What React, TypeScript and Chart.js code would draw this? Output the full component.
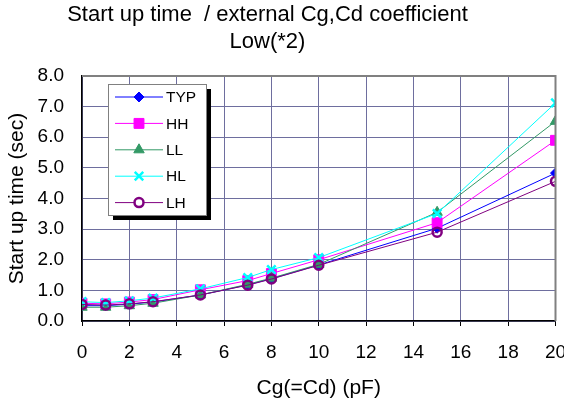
import React, { useEffect, useRef } from 'react';
import { Chart, registerables } from 'chart.js';
import { drawPoint } from 'chart.js/helpers';

Chart.register(...registerables);

const xValues = [0, 1, 2, 3, 5, 7, 8, 10, 15, 20];
const seriesNames = ['TYP', 'HH', 'LL', 'HL', 'LH'];
const typValues = [0.5, 0.5, 0.55, 0.62, 0.85, 1.18, 1.38, 1.83, 3.03, 4.83];
const hhValues = [0.58, 0.56, 0.62, 0.7, 1.02, 1.32, 1.55, 2.0, 3.21, 5.9];
const llValues = [0.45, 0.45, 0.5, 0.58, 0.85, 1.2, 1.4, 1.85, 3.55, 6.52];
const hlValues = [0.63, 0.6, 0.66, 0.75, 1.05, 1.42, 1.68, 2.07, 3.51, 7.12];
const lhValues = [0.54, 0.52, 0.56, 0.63, 0.85, 1.17, 1.37, 1.82, 2.9, 4.56];
const titleLines = ['Start up time  / external Cg,Cd coefficient', 'Low(*2)'];
const xTitle = 'Cg(=Cd) (pF)';
const yTitle = 'Start up time (sec)';

const FONT = '"Liberation Sans", Arial, sans-serif';

const styles = [
  { color: '#0000FF', pointStyle: 'rectRot', radius: 5, fill: '#0000FF', bw: 1 },
  { color: '#FF00FF', pointStyle: 'rect', radius: 7, fill: '#FF00FF', bw: 1 },
  { color: '#339966', pointStyle: 'triangle', radius: 6, fill: '#339966', bw: 1 },
  { color: '#00FFFF', pointStyle: 'crossRot', radius: 6, fill: '#00FFFF', bw: 2.5 },
  { color: '#800080', pointStyle: 'circle', radius: 4.5, fill: 'rgba(0,0,0,0)', bw: 2.5 },
];

const allValues = [typValues, hhValues, llValues, hlValues, lhValues];

const decorPlugin = {
  id: 'decor',
  afterDraw(chart: any) {
    const ctx = chart.ctx;
    const ca = chart.chartArea;
    ctx.save();
    // top / right border
    ctx.strokeStyle = '#808080';
    ctx.lineWidth = 2;
    ctx.beginPath();
    ctx.moveTo(ca.left, ca.top);
    ctx.lineTo(ca.right, ca.top);
    ctx.lineTo(ca.right, ca.bottom);
    ctx.stroke();

    // title
    ctx.fillStyle = '#000';
    ctx.font = `22px ${FONT}`;
    ctx.textAlign = 'center';
    ctx.textBaseline = 'alphabetic';
    ctx.fillText(titleLines[0], 267.5, 21);
    ctx.fillText(titleLines[1], 267.5, 47.5);

    // legend
    const bx = 108, by = 84, bw = 98, bh = 131;
    ctx.fillStyle = '#000';
    ctx.fillRect(bx + 5, by + 5, bw, bh);
    ctx.fillStyle = '#fff';
    ctx.fillRect(bx, by, bw, bh);
    ctx.strokeStyle = '#808080';
    ctx.lineWidth = 1;
    ctx.strokeRect(bx + 0.5, by + 0.5, bw, bh);
    ctx.font = `15.5px ${FONT}`;
    ctx.textAlign = 'left';
    ctx.textBaseline = 'middle';
    chart.data.datasets.forEach((ds: any, i: number) => {
      const st = styles[i];
      const y = 97 + i * 26.4;
      ctx.strokeStyle = st.color;
      ctx.lineWidth = 1;
      ctx.beginPath();
      ctx.moveTo(115, y);
      ctx.lineTo(163, y);
      ctx.stroke();
      ctx.fillStyle = i === 4 ? '#fff' : st.fill;
      ctx.strokeStyle = st.color;
      ctx.lineWidth = st.bw;
      drawPoint(ctx, { pointStyle: st.pointStyle, rotation: 0, radius: st.radius, borderWidth: st.bw } as any, 139, y);
      ctx.fillStyle = '#000';
      ctx.fillText(ds.label, 166, y + 1);
    });
    ctx.restore();
  },
};

export default function App() {
  const ref = useRef<HTMLCanvasElement | null>(null);
  useEffect(() => {
    if (!ref.current) return;
    const datasets = seriesNames.map((name, i) => ({
      label: name,
      data: xValues.map((x, j) => ({ x, y: allValues[i][j] })),
      borderColor: styles[i].color,
      backgroundColor: styles[i].fill,
      borderWidth: 1,
      pointStyle: styles[i].pointStyle,
      pointRadius: styles[i].radius,
      pointBorderWidth: styles[i].bw,
      pointBorderColor: styles[i].color,
      pointBackgroundColor: styles[i].fill,
      showLine: true,
      fill: false,
      tension: 0,
      order: 5 - i,
    }));
    const chart = new Chart(ref.current, {
      type: 'scatter',
      data: { datasets } as any,
      options: {
        animation: false,
        responsive: false,
        devicePixelRatio: 1,
        layout: { padding: { top: 76, right: 7, left: 0, bottom: 0 } },
        plugins: { legend: { display: false }, tooltip: { enabled: false }, title: { display: false } },
        scales: {
          x: {
            type: 'linear',
            min: 0,
            max: 20,
            ticks: { stepSize: 2, color: '#000', font: { family: FONT, size: 19 }, padding: 15, maxRotation: 0, autoSkip: false },
            grid: { color: '#6e6e9e', lineWidth: 1, drawTicks: true, tickLength: 5, tickColor: '#000' },
            border: { color: '#000', width: 1.5 },
            title: { display: true, text: xTitle, color: '#000', font: { family: FONT, size: 21 }, padding: { top: 0, bottom: 2 } },
            afterFit: (s: any) => { s.height = 82; s.paddingLeft = 0; s.paddingRight = 0; },
          },
          y: {
            min: 0,
            max: 8,
            ticks: { stepSize: 1, color: '#000', font: { family: FONT, size: 19 }, padding: 18, callback: (v: any) => Number(v).toFixed(1) },
            grid: { color: '#6e6e9e', lineWidth: 1, drawTicks: false },
            border: { color: '#000', width: 1.5 },
            title: { display: true, text: yTitle, color: '#000', font: { family: FONT, size: 21 }, padding: { top: 5, bottom: 0 } },
            afterFit: (s: any) => { s.width = 82; },
          },
        },
      } as any,
      plugins: [decorPlugin],
    });
    return () => chart.destroy();
  }, []);
  return (
    <div style={{ position: 'absolute', left: 0, top: 0, width: 564, height: 403, background: '#fff' }}>
      <canvas ref={ref} width={564} height={403} style={{ display: 'block', width: 564, height: 403 }} />
    </div>
  );
}
